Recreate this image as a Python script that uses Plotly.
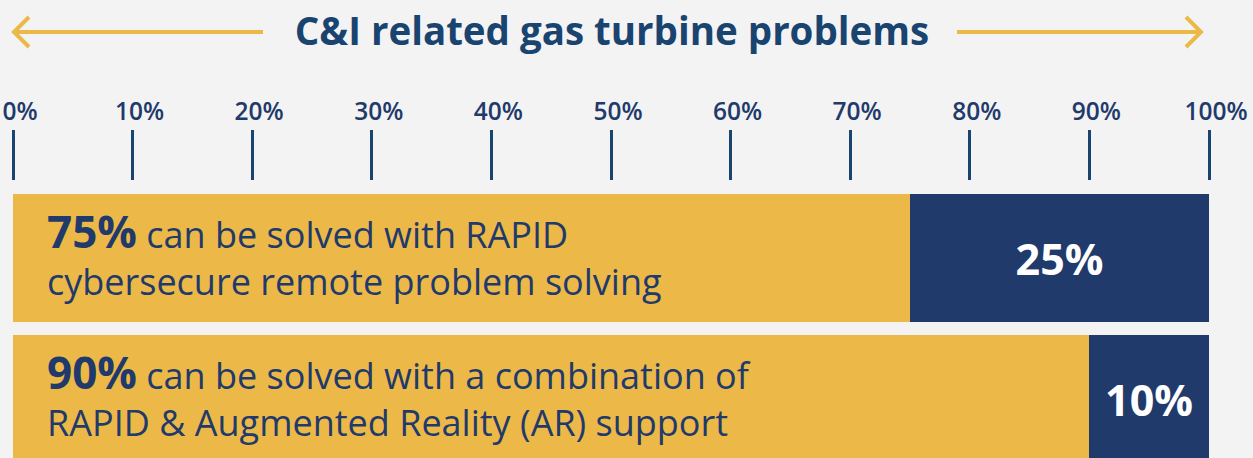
import plotly.graph_objects as go

# ---- data ----
title_text = "C&I related gas turbine problems"
rows = [1, 0]  # vertical position of each bar (top, bottom)
solved_pct = [75, 90]
remaining_pct = [25, 10]
line1_text = ["can be solved with RAPID", "can be solved with a combination of"]
line2_text = ["cybersecure remote problem solving", "RAPID & Augmented Reality (AR) support"]
tick_vals = [0, 10, 20, 30, 40, 50, 60, 70, 80, 90, 100]
tick_text = [f"{v}%" for v in tick_vals]

YELLOW = "#ECB948"
NAVY = "#1F3A6B"
TEXT_BLUE = "#1F3A6B"
TITLE_BLUE = "#1A4470"
BG = "#F3F3F3"

W, H = 1253, 458
ML, MR, MT, MB = 13, 44, 181, 0
PW, PH = W - ML - MR, H - MT - MB


def px(x):
    return (x - ML) / PW


def py(y):
    return (H - MB - y) / PH


fig = go.Figure()
fig.add_trace(go.Bar(
    y=rows, x=solved_pct, orientation="h", width=0.908,
    marker=dict(color=YELLOW, line=dict(width=0)),
    hoverinfo="skip",
))
fig.add_trace(go.Bar(
    y=rows, x=remaining_pct, orientation="h", width=0.908,
    marker=dict(color=NAVY, line=dict(width=0)),
    text=[f"{v}%" for v in remaining_pct], textposition="inside",
    insidetextanchor="middle", constraintext="none",
    textfont=dict(family="Open Sans", size=43, color="white", weight=700),
    hoverinfo="skip",
))

annotations = []
for r, s, l1, l2 in zip(rows, solved_pct, line1_text, line2_text):
    annotations.append(dict(
        xref="x", yref="y", x=2.7, y=r, xanchor="left", yanchor="middle",
        yshift=5, showarrow=False, align="left",
        text=f"<span style='font-size:44px'><b>{s}%</b></span> {l1}<br>{l2}",
        font=dict(family="Open Sans", size=36, color=TEXT_BLUE),
    ))

arrow = dict(color=YELLOW, width=4)
shapes = [
    dict(type="path", xref="paper", yref="paper",
         path=f"M{px(263)},{py(32)} L{px(14)},{py(32)}", line=arrow),
    dict(type="path", xref="paper", yref="paper",
         path=f"M{px(29)},{py(17)} L{px(14)},{py(32)} L{px(29)},{py(47)}", line=arrow),
    dict(type="path", xref="paper", yref="paper",
         path=f"M{px(957)},{py(32)} L{px(1201)},{py(32)}", line=arrow),
    dict(type="path", xref="paper", yref="paper",
         path=f"M{px(1186)},{py(17)} L{px(1201)},{py(32)} L{px(1186)},{py(47)}", line=arrow),
]

fig.update_layout(
    width=W, height=H,
    margin=dict(l=ML, r=MR, t=MT, b=MB, autoexpand=False),
    paper_bgcolor=BG, plot_bgcolor=BG,
    barmode="stack", showlegend=False, bargap=0,
    title=dict(text=title_text, x=612 / W, xanchor="center", y=1 - 32 / H,
               yanchor="middle", yref="container",
               font=dict(family="Open Sans", size=38.5, color=TITLE_BLUE, weight=700)),
    xaxis=dict(range=[0, 100], side="top", tickmode="array", tickvals=tick_vals,
               ticktext=tick_text, ticks="outside", ticklen=50, tickwidth=3,
               tickcolor=TITLE_BLUE, showgrid=False, zeroline=False, showline=False,
               tickfont=dict(family="Open Sans", size=24.5, color=TEXT_BLUE, weight=600),
               ticklabeloverflow="allow", ticklabelshift=7, automargin=False,
               fixedrange=True),
    yaxis=dict(range=[-0.418, 1.546], visible=False, fixedrange=True, automargin=False),
    annotations=annotations,
    shapes=shapes,
)

fig.write_html(
    "out.html",
    config={"displayModeBar": False},
    post_script="document.body.style.margin='0';document.body.style.background='#F3F3F3';",
)
